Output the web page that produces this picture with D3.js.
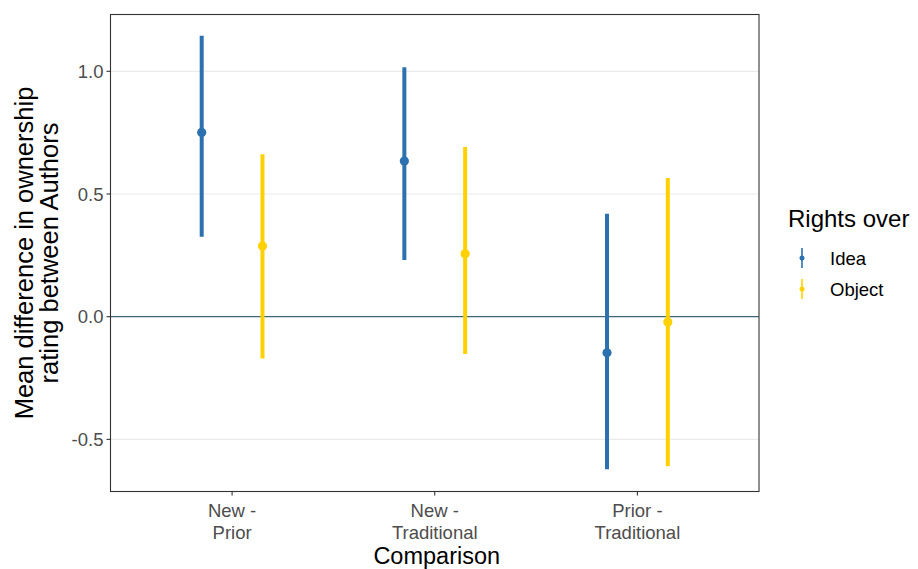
<!DOCTYPE html>
<html><head><meta charset="utf-8">
<script src="https://cdn.jsdelivr.net/npm/d3@7"></script>
<style>body{margin:0;background:#fff;} text{font-family:"Liberation Sans",Arial,sans-serif;}</style>
</head><body><svg id="c" width="918" height="569"></svg>
<script>
const categories = [["New -","Prior"],["New -","Traditional"],["Prior -","Traditional"]];
const groups = ["Idea","Object"];
const colors = ["#2C71AF","#FFD100"];
const ideaMean = [0.751, 0.634, -0.147];
const ideaLow = [0.326, 0.231, -0.622];
const ideaHigh = [1.145, 1.017, 0.419];
const objMean = [0.288, 0.256, -0.022];
const objLow = [-0.170, -0.152, -0.610];
const objHigh = [0.662, 0.692, 0.565];
const yTicks = [-0.5, 0.0, 0.5, 1.0];

const svg = d3.select("#c");
const L = 110.5, R = 759, T = 14.5, B = 491.5;
const x = d3.scaleLinear().domain([0.4, 3.6]).range([L, R]);
const y = d3.scaleLinear().domain([-0.7125, 1.2315]).range([B, T]);

// grid
svg.append("g").selectAll("line").data(yTicks.filter(d=>d!==0)).join("line")
  .attr("x1",L).attr("x2",R).attr("y1",d=>y(d)).attr("y2",d=>y(d))
  .attr("stroke","#EBEBEB").attr("stroke-width",1.2);
// zero line
svg.append("line").attr("x1",L).attr("x2",R).attr("y1",y(0)).attr("y2",y(0))
  .attr("stroke","#3F6579").attr("stroke-width",1.3);

const series = [
  {g:0, mean:ideaMean, low:ideaLow, high:ideaHigh, off:-0.15},
  {g:1, mean:objMean, low:objLow, high:objHigh, off:0.15}
];
series.forEach(s=>{
  const gg = svg.append("g");
  categories.forEach((c,i)=>{
    const cx = x(i+1+s.off);
    gg.append("line").attr("x1",cx).attr("x2",cx).attr("y1",y(s.low[i])).attr("y2",y(s.high[i]))
      .attr("stroke",colors[s.g]).attr("stroke-width",4);
    gg.append("circle").attr("cx",cx).attr("cy",y(s.mean[i])).attr("r",4.6).attr("fill",colors[s.g]);
  });
});

// border
svg.append("rect").attr("x",L).attr("y",T).attr("width",R-L).attr("height",B-T)
  .attr("fill","none").attr("stroke","#333333").attr("stroke-width",1.1);

// y axis ticks
const yax = svg.append("g");
yTicks.forEach(t=>{
  yax.append("line").attr("x1",L-4).attr("x2",L).attr("y1",y(t)).attr("y2",y(t)).attr("stroke","#333").attr("stroke-width",1.1);
  yax.append("text").attr("x",L-7).attr("y",y(t)).attr("dy","0.36em").attr("text-anchor","end")
    .attr("font-size",18.5).attr("fill","#4D4D4D").text(t.toFixed(1));
});
// x axis ticks
const xax = svg.append("g");
categories.forEach((c,i)=>{
  const cx = x(i+1);
  xax.append("line").attr("x1",cx).attr("x2",cx).attr("y1",B).attr("y2",B+4).attr("stroke","#333").attr("stroke-width",1.1);
  c.forEach((ln,j)=>{
    xax.append("text").attr("x",cx).attr("y",517+j*21.5).attr("text-anchor","middle")
      .attr("font-size",18.5).attr("fill","#4D4D4D").text(ln);
  });
});
// axis titles
svg.append("text").attr("x",(L+R)/2+2).attr("y",564).attr("text-anchor","middle").attr("font-size",23.5).attr("fill","#000").text("Comparison");
const yt = svg.append("text").attr("transform",`translate(0,${(T+B)/2}) rotate(-90)`).attr("text-anchor","middle").attr("font-size",25.5).attr("fill","#000");
yt.append("tspan").attr("x",0).attr("y",33).text("Mean difference in ownership");
yt.append("tspan").attr("x",0).attr("y",58).text("rating between Authors");

// legend
const lg = svg.append("g");
lg.append("text").attr("x",788).attr("y",227).attr("font-size",24).attr("fill","#000").text("Rights over");
groups.forEach((g,i)=>{
  const cy = 258 + i*31;
  lg.append("line").attr("x1",802).attr("x2",802).attr("y1",cy-10).attr("y2",cy+10).attr("stroke",colors[i]).attr("stroke-width",1.6);
  lg.append("circle").attr("cx",802).attr("cy",cy).attr("r",2.5).attr("fill",colors[i]);
  lg.append("text").attr("x",830).attr("y",cy).attr("dy","0.36em").attr("font-size",18.5).attr("fill","#000").text(g);
});
</script></body></html>
